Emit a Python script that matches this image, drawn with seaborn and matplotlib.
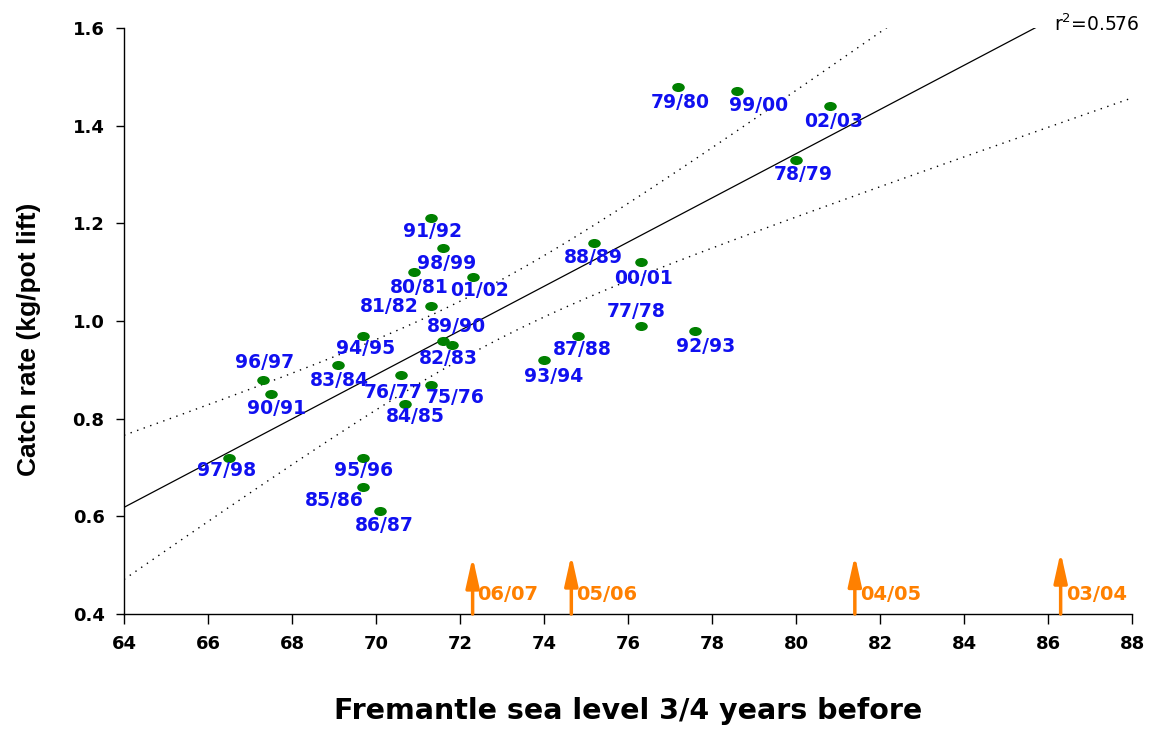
import numpy as np
import pandas as pd
import matplotlib
matplotlib.use("Agg")
import matplotlib.pyplot as plt
import seaborn as sns
from matplotlib.path import Path
from matplotlib.transforms import Affine2D

# Season labels, sea level (x) and catch rate (y)
seasons = ["97/98", "96/97", "90/91", "83/84", "94/95", "95/96", "85/86", "86/87",
           "76/77", "84/85", "75/76", "81/82", "80/81", "91/92", "98/99", "01/02",
           "89/90", "82/83", "88/89", "00/01", "77/78", "92/93", "87/88", "93/94",
           "79/80", "99/00", "02/03", "78/79"]
sea_level = [66.5, 67.3, 67.5, 69.1, 69.7, 69.7, 69.7, 70.1,
             70.6, 70.7, 71.3, 71.3, 70.9, 71.3, 71.6, 72.3,
             71.6, 71.8, 75.2, 76.3, 76.3, 77.6, 74.8, 74.0,
             77.2, 78.6, 80.8, 80.0]
catch_rate = [0.72, 0.88, 0.85, 0.91, 0.97, 0.72, 0.66, 0.61,
              0.89, 0.83, 0.87, 1.03, 1.10, 1.21, 1.15, 1.09,
              0.96, 0.95, 1.16, 1.12, 0.99, 0.98, 0.97, 0.92,
              1.48, 1.47, 1.44, 1.33]

# Recent seasons with sea level only (orange arrows)
recent_seasons = ["06/07", "05/06", "04/05", "03/04"]
recent_level = [72.3, 74.65, 81.4, 86.3]
arrow_top = [0.517, 0.521, 0.52, 0.527]

r2_text = "r$^2$=0.576"

# label offsets in pixels (layout only)
label_offsets = [(-2, -13), (2, 17), (5, -14), (1, -16), (2, -13), (0, -13), (-29, -13), (4, -14),
                 (-8, -18), (10, -12), (25, -13), (-41, 0), (5, -15), (2, -13), (3, -16), (7, -13),
                 (13, 14), (-3, -13), (-1, -15), (3, -16), (-4, 14), (10, -16), (5, -14), (10, -16),
                 (2, -16), (21, -14), (4, -15), (7, -15)]

df = pd.DataFrame({"season": seasons, "sea": sea_level, "catch": catch_rate})

sns.set_style("white")
plt.rcParams["font.family"] = ["DejaVu Sans"]
plt.rcParams["text.color"] = "black"
plt.rcParams["axes.labelcolor"] = "black"
plt.rcParams["xtick.color"] = "black"
plt.rcParams["ytick.color"] = "black"

fig = plt.figure(figsize=(11.6, 7.31), dpi=100)
ax = fig.add_axes([0.1069, 0.16, 0.869, 0.8017])

# linear fit with 95% confidence band of the mean
x = df["sea"].values
y = df["catch"].values
n = len(x)
slope, intercept = np.polyfit(x, y, 1)
resid = y - (slope * x + intercept)
s = np.sqrt(np.sum(resid ** 2) / (n - 2))
sxx = np.sum((x - x.mean()) ** 2)
t = 2.056
xs = np.linspace(64, 88, 200)
fit = slope * xs + intercept
half = t * s * np.sqrt(1 / n + (xs - x.mean()) ** 2 / sxx)

ax.plot(xs, fit, color="black", lw=0.9)
ax.plot(xs, fit + half, color="black", lw=1.0, linestyle=(0, (1, 4)))
ax.plot(xs, fit - half, color="black", lw=1.0, linestyle=(0, (1, 4)))

# elliptical green markers
ellipse = Path.unit_circle().transformed(Affine2D().scale(1.0, 0.72))
sns.scatterplot(data=df, x="sea", y="catch", ax=ax, color="#008000",
                marker=ellipse, s=82, linewidth=0, zorder=3)

for lab, xv, yv, off in zip(seasons, sea_level, catch_rate, label_offsets):
    ax.annotate(lab, (xv, yv), xytext=off, textcoords="offset pixels",
                ha="center", va="center", color="#1010F0",
                fontsize=13.5, fontweight="bold", zorder=4)

for lab, xv, top in zip(recent_seasons, recent_level, arrow_top):
    ax.annotate("", xy=(xv, top), xytext=(xv, 0.4),
                arrowprops=dict(arrowstyle="-|>,head_length=0.9,head_width=0.2",
                                color="#FF8000", lw=2.5, mutation_scale=20,
                                shrinkA=0, shrinkB=0))
    ax.annotate(lab, (xv, 0.439), xytext=(5, 0), textcoords="offset pixels",
                ha="left", va="center", color="#FF8000",
                fontsize=14, fontweight="bold")

ax.text(86.15, 1.607, r2_text, fontsize=13.5, ha="left", va="center", clip_on=False)

ax.set_xlim(64, 88)
ax.set_ylim(0.4, 1.6)
ax.set_xticks(np.arange(64, 89, 2))
ax.set_yticks(np.arange(0.4, 1.61, 0.2))
ax.set_yticklabels([f"{v:.1f}" for v in np.arange(0.4, 1.61, 0.2)])
for lbl in ax.get_xticklabels() + ax.get_yticklabels():
    lbl.set_fontweight("bold")
    lbl.set_fontsize(13)
ax.tick_params(axis="x", direction="out", length=7, width=1, pad=8, bottom=True)
ax.tick_params(axis="y", direction="out", length=6, width=1, pad=8, left=True)
sns.despine(ax=ax)
for sp in ["left", "bottom"]:
    ax.spines[sp].set_color("black")
    ax.spines[sp].set_linewidth(1)

ax.set_xlabel("Fremantle sea level 3/4 years before", fontsize=20.5, fontweight="bold", labelpad=32)
ax.set_ylabel("Catch rate (kg/pot lift)", fontsize=19, fontweight="bold",
              family=["Liberation Sans", "DejaVu Sans"])
ax.yaxis.set_label_coords(-0.082, 0.469)

fig.savefig("out.png", dpi=100)
